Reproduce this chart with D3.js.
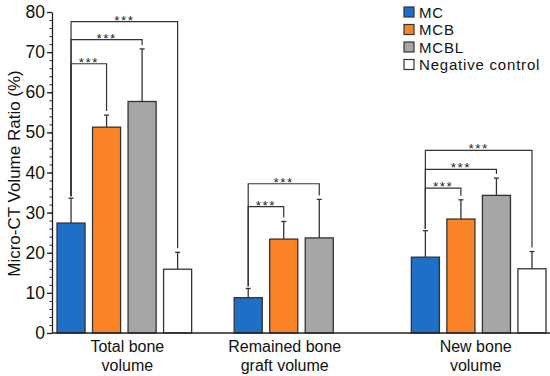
<!DOCTYPE html>
<html>
<head>
<meta charset="utf-8">
<script src="https://cdn.jsdelivr.net/npm/d3@7"></script>
<style>
  body { margin: 0; background: #fff; }
  svg { display: block; font-family: "Liberation Sans", Arial, sans-serif; }
</style>
</head>
<body>
<svg id="chart" width="550" height="376"></svg>
<script>
// groups along the x axis and the two-line labels under them
var groups = ["Total bone volume", "Remained bone graft volume", "New bone volume"];
var groupLabels = [["Total bone", "volume"], ["Remained bone", "graft volume"], ["New bone", "volume"]];
var series = ["MC", "MCB", "MCBL", "Negative control"];
var colors = ["#1f6fc6", "#fb8428", "#a6a6a6", "#ffffff"];

// means and (upper) error per group, in series order; null = not measured
var totalMean = [27.4, 51.3, 57.7, 15.9];
var totalErr = [6.2, 3.0, 13.1, 4.2];
var graftMean = [8.8, 23.4, 23.7, null];
var graftErr = [2.3, 4.4, 9.6, null];
var newMean = [18.9, 28.4, 34.3, 16.0];
var newErr = [6.6, 4.8, 4.3, 4.3];

// significance brackets: [group index, from series, to series, bracket level]
var brackets = [
  [0, 0, 1, 67.1], [0, 0, 2, 73.1], [0, 0, 3, 77.6],
  [1, 0, 1, 31.5], [1, 0, 2, 37.2],
  [2, 0, 1, 36.1], [2, 0, 2, 40.8], [2, 0, 3, 45.5]
];

var yTicks = [0, 10, 20, 30, 40, 50, 60, 70, 80];

var means = [totalMean, graftMean, newMean];
var errs = [totalErr, graftErr, newErr];

var svg = d3.select("#chart");
var axisX = 52, baseY = 333;

var y = d3.scaleLinear().domain([0, 80]).range([baseY, 12]);
var x0 = d3.scaleBand().domain(groups).range([57, 546]).paddingInner(0.24).paddingOuter(0);
var x1 = d3.scaleBand().domain(series).range([0, x0.bandwidth()]).paddingInner(0.21).paddingOuter(0);

// flat list of bars
var bars = [];
groups.forEach(function(g, gi) {
  series.forEach(function(s, si) {
    if (means[gi][si] == null) return;
    bars.push({g: g, gi: gi, s: s, si: si, v: means[gi][si], e: errs[gi][si]});
  });
});
function cx(gi, si) { return x0(groups[gi]) + x1(series[si]) + x1.bandwidth() / 2; }
function errTop(gi, si) { return y(means[gi][si] + errs[gi][si]); }

// y axis: majors + minors
svg.append("g")
  .attr("transform", "translate(" + axisX + ",0)")
  .call(d3.axisLeft(y).tickValues(d3.range(0, 81, 2)).tickSize(2.5).tickFormat(""))
  .call(function(g) { g.select(".domain").remove(); g.selectAll("line").attr("stroke", "#222").attr("stroke-width", 1); });

svg.append("g")
  .attr("transform", "translate(" + axisX + ",0)")
  .call(d3.axisLeft(y).tickValues(yTicks).tickSize(5).tickPadding(2).tickSizeOuter(0))
  .call(function(g) {
    g.select(".domain").attr("stroke", "#222").attr("stroke-width", 1.3);
    g.selectAll("line").attr("stroke", "#222").attr("stroke-width", 1.3);
    g.selectAll("text").attr("font-size", 17.5).attr("fill", "#111")
      .attr("font-family", "Liberation Sans, Arial, sans-serif");
  });

svg.append("text")
  .attr("transform", "translate(20," + (y(40) + 1) + ") rotate(-90)")
  .attr("text-anchor", "middle")
  .attr("font-size", 17)
  .attr("fill", "#111")
  .text("Micro-CT Volume Ratio (%)");

// error bars (upper only)
var eb = svg.append("g").attr("stroke", "#333").attr("stroke-width", 1.3);
eb.selectAll("line.v").data(bars).join("line")
  .attr("x1", function(d) { return cx(d.gi, d.si); })
  .attr("x2", function(d) { return cx(d.gi, d.si); })
  .attr("y1", function(d) { return y(d.v); })
  .attr("y2", function(d) { return y(d.v + d.e); });
eb.selectAll("line.cap").data(bars).join("line")
  .attr("x1", function(d) { return cx(d.gi, d.si) - 2.5; })
  .attr("x2", function(d) { return cx(d.gi, d.si) + 2.5; })
  .attr("y1", function(d) { return y(d.v + d.e); })
  .attr("y2", function(d) { return y(d.v + d.e); });

// bars
svg.append("g").selectAll("rect").data(bars).join("rect")
  .attr("x", function(d) { return x0(d.g) + x1(d.s); })
  .attr("y", function(d) { return y(d.v); })
  .attr("width", x1.bandwidth())
  .attr("height", function(d) { return y(0) - y(d.v); })
  .attr("fill", function(d) { return colors[d.si]; })
  .attr("stroke", "#333")
  .attr("stroke-width", 1.3);

// x baseline
svg.append("line")
  .attr("x1", axisX).attr("x2", 550)
  .attr("y1", baseY).attr("y2", baseY)
  .attr("stroke", "#222").attr("stroke-width", 1.3);

// significance brackets
var br = svg.append("g");
br.selectAll("path").data(brackets).join("path")
  .attr("fill", "none").attr("stroke", "#333").attr("stroke-width", 1.2)
  .attr("d", function(b) {
    var p = d3.path();
    p.moveTo(cx(b[0], b[1]), errTop(b[0], b[1]) - 2);
    p.lineTo(cx(b[0], b[1]), y(b[3]));
    p.lineTo(cx(b[0], b[2]), y(b[3]));
    p.lineTo(cx(b[0], b[2]), errTop(b[0], b[2]) - 4);
    return p;
  });
br.selectAll("text").data(brackets).join("text")
  .attr("x", function(b) { return (cx(b[0], b[1]) + cx(b[0], b[2])) / 2; })
  .attr("y", function(b) { return y(b[3]) + 3; })
  .attr("text-anchor", "middle")
  .attr("font-size", 13.5)
  .attr("letter-spacing", 1.5)
  .attr("fill", "#222")
  .text("***");

// group labels, one text per line
var gl = svg.append("g");
groups.forEach(function(g, gi) {
  var xs = bars.filter(function(d) { return d.gi === gi; }).map(function(d) { return cx(d.gi, d.si); });
  var mx = d3.mean(xs) + [3, 1, -3][gi];
  groupLabels[gi].forEach(function(line, li) {
    gl.append("text")
      .attr("x", mx)
      .attr("y", 352 + li * 18.5)
      .attr("text-anchor", "middle")
      .attr("font-size", 16)
      .attr("fill", "#111")
      .text(line);
  });
});

// legend
var leg = svg.append("g").selectAll("g").data(series).join("g")
  .attr("transform", function(d, i) { return "translate(404," + (7 + i * 17.5) + ")"; });
leg.append("rect")
  .attr("width", 10).attr("height", 10)
  .attr("fill", function(d, i) { return colors[i]; })
  .attr("stroke", "#333").attr("stroke-width", 1.2);
leg.append("text")
  .attr("x", 15).attr("y", 10.5)
  .attr("font-size", 15)
  .attr("letter-spacing", 0.8)
  .attr("fill", "#111")
  .text(function(d) { return d; });
</script>
</body>
</html>
